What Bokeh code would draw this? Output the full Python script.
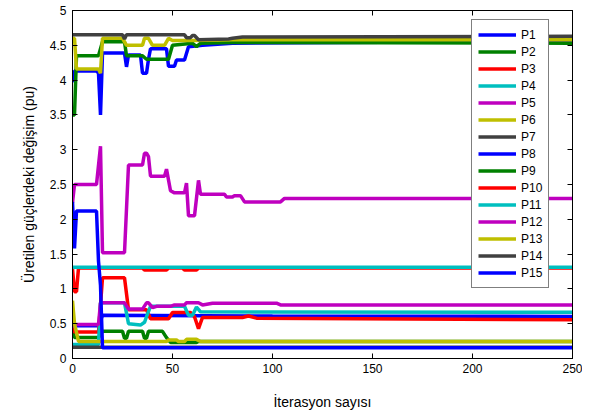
from bokeh.plotting import figure
from bokeh.models import Legend, LegendItem, LinearAxis, FixedTicker
from bokeh.embed import file_html
from bokeh.resources import INLINE

# ---------------- data ----------------
x_ticks = [0, 50, 100, 150, 200, 250]
y_ticks = [0, 0.5, 1, 1.5, 2, 2.5, 3, 3.5, 4, 4.5, 5]
y_tick_labels = ["0", "0.5", "1", "1.5", "2", "2.5", "3", "3.5", "4", "4.5", "5"]

names = ["P1", "P2", "P3", "P4", "P5", "P6", "P7", "P8", "P9", "P10",
         "P11", "P12", "P13", "P14", "P15"]
colors = ["#0000FF", "#008000", "#FF0000", "#00BFBF", "#BF00BF", "#BFBF00", "#404040",
          "#0000FF", "#008000", "#FF0000", "#00BFBF", "#BF00BF", "#BFBF00", "#404040",
          "#0000FF"]

it_P1 = [0, 1, 12, 13, 14, 15, 26, 27, 28, 34, 35, 37, 38, 39, 47, 48, 51, 52, 56, 58, 65, 80, 250]
va_P1 = [3.97, 4.13, 4.13, 4.1, 3.5, 4.39, 4.39, 4.19, 4.36, 4.36, 4.1, 4.1, 4.3, 4.45, 4.45, 4.2, 4.2, 4.29, 4.29, 4.48, 4.5, 4.53, 4.56]

it_P2 = [0, 1, 2, 13, 14, 15, 26, 27, 35, 37, 48, 50, 60, 62, 64, 80, 250]
va_P2 = [3.5, 3.5, 4.35, 4.35, 4.45, 4.55, 4.55, 4.35, 4.35, 4.3, 4.3, 4.5, 4.53, 4.48, 4.53, 4.54, 4.53]

it_P3 = [0, 1, 2, 3, 35, 36, 47, 48, 55, 56, 62, 63, 250]
va_P3 = [1.29, 0.96, 0.96, 1.3, 1.3, 1.27, 1.27, 1.3, 1.3, 1.27, 1.27, 1.3, 1.3]

it_P4 = [0, 250]
va_P4 = [1.31, 1.31]

it_P5 = [0, 1, 12, 14, 15, 26, 28, 35, 36, 37, 38, 39, 46, 47, 49, 51, 56, 57, 58, 61, 63, 64, 76, 77, 80, 81, 84, 86, 104, 106, 250]
va_P5 = [2.24, 2.5, 2.5, 3.05, 1.52, 1.52, 2.78, 2.78, 2.95, 2.95, 2.9, 2.62, 2.62, 2.72, 2.41, 2.38, 2.38, 2.52, 2.05, 2.05, 2.56, 2.36, 2.36, 2.32, 2.32, 2.34, 2.34, 2.25, 2.25, 2.3, 2.3]

it_P6 = [0, 1, 2, 13, 14, 15, 25, 27, 35, 36, 38, 40, 46, 48, 50, 60, 80, 250]
va_P6 = [4.6, 4.6, 4.16, 4.16, 4.1, 4.6, 4.6, 4.5, 4.5, 4.6, 4.6, 4.5, 4.5, 4.6, 4.57, 4.57, 4.58, 4.58]

it_P7 = [0, 25, 26, 27, 56, 57, 59, 60, 61, 63, 78, 80, 85, 250]
va_P7 = [4.65, 4.65, 4.59, 4.65, 4.65, 4.61, 4.61, 4.64, 4.64, 4.58, 4.59, 4.6, 4.62, 4.63]

it_P8 = [0, 1, 13, 15, 100, 250]
va_P8 = [0.5, 0.47, 0.47, 0.62, 0.61, 0.605]

it_P9 = [0, 1, 13, 15, 25, 26, 27, 28, 35, 36, 37, 38, 45, 47, 49, 62, 63, 250]
va_P9 = [0.4, 0.3, 0.3, 0.39, 0.39, 0.29, 0.29, 0.39, 0.39, 0.29, 0.29, 0.39, 0.39, 0.3, 0.23, 0.23, 0.245, 0.245]

it_P10 = [0, 1, 13, 15, 26, 28, 37, 39, 48, 50, 59, 61, 63, 65, 85, 88, 92, 250]
va_P10 = [0.45, 0.38, 0.38, 1.16, 1.16, 0.7, 0.7, 0.57, 0.57, 0.66, 0.66, 0.6, 0.43, 0.59, 0.59, 0.61, 0.58, 0.556]

it_P11 = [0, 13, 14, 26, 28, 34, 36, 37, 39, 56, 58, 60, 62, 64, 250]
va_P11 = [0.2, 0.2, 0.8, 0.8, 0.5, 0.48, 0.52, 0.6, 0.75, 0.75, 0.62, 0.62, 0.74, 0.67, 0.665]

it_P12 = [0, 1, 13, 14, 26, 28, 35, 37, 38, 40, 42, 49, 51, 56, 57, 63, 65, 70, 102, 104, 250]
va_P12 = [0.45, 0.49, 0.49, 0.8, 0.8, 0.71, 0.71, 0.8, 0.8, 0.73, 0.75, 0.75, 0.77, 0.77, 0.8, 0.8, 0.77, 0.795, 0.795, 0.77, 0.77]

it_P13 = [0, 1, 3, 47, 48, 52, 53, 56, 57, 62, 64, 250]
va_P13 = [0.83, 0.5, 0.245, 0.245, 0.265, 0.265, 0.245, 0.245, 0.275, 0.275, 0.245, 0.245]

it_P14 = [0, 250]
va_P14 = [0.16, 0.16]

it_P15 = [0, 1, 2, 12, 13, 14, 15, 250]
va_P15 = [2.25, 1.58, 2.12, 2.12, 1.4, 1.05, 0.155, 0.155]

iters = [it_P1, it_P2, it_P3, it_P4, it_P5, it_P6, it_P7, it_P8, it_P9, it_P10,
         it_P11, it_P12, it_P13, it_P14, it_P15]
vals = [va_P1, va_P2, va_P3, va_P4, va_P5, va_P6, va_P7, va_P8, va_P9, va_P10,
        va_P11, va_P12, va_P13, va_P14, va_P15]

# ---------------- figure ----------------
FONT = "Liberation Sans"

p = figure(frame_width=500, frame_height=348, x_range=(0, 250), y_range=(0, 5),
           output_backend="svg", toolbar_location=None,
           min_border_left=72, min_border_top=10, min_border_right=10, min_border_bottom=40)
p.xgrid.visible = False
p.ygrid.visible = False
p.outline_line_color = "black"
p.outline_line_width = 1
p.background_fill_color = "white"
p.border_fill_color = "white"

for ax in (p.xaxis[0], p.yaxis[0]):
    ax.axis_line_color = "black"
    ax.major_tick_line_color = "black"
    ax.major_tick_in = 5
    ax.major_tick_out = 0
    ax.minor_tick_line_color = None
    ax.major_label_text_font = FONT
    ax.major_label_text_font_size = "12px"
    ax.major_label_text_color = "black"
    ax.axis_label_text_font = FONT
    ax.axis_label_text_font_size = "14px"
    ax.axis_label_text_font_style = "normal"
    ax.axis_label_text_color = "black"

p.xaxis[0].ticker = FixedTicker(ticks=x_ticks)
p.yaxis[0].ticker = FixedTicker(ticks=y_ticks)
p.yaxis[0].major_label_overrides = {t: l for t, l in zip(y_ticks, y_tick_labels)}
p.xaxis[0].major_label_standoff = 5
p.yaxis[0].major_label_standoff = 6
p.xaxis[0].axis_label = "İterasyon sayısı"
p.yaxis[0].axis_label = "Üretilen güçlerdeki değişim (pu)"
p.xaxis[0].axis_label_standoff = 18
p.yaxis[0].axis_label_standoff = 10

top_axis = LinearAxis(ticker=FixedTicker(ticks=x_ticks))
right_axis = LinearAxis(ticker=FixedTicker(ticks=y_ticks))
for ax in (top_axis, right_axis):
    ax.axis_line_color = "black"
    ax.major_tick_line_color = "black"
    ax.major_tick_in = 5
    ax.major_tick_out = 0
    ax.minor_tick_line_color = None
    ax.major_label_text_font_size = "0px"
    ax.major_label_text_alpha = 0
    ax.major_label_standoff = 0
p.add_layout(top_axis, "above")
p.add_layout(right_axis, "right")

items = []
for name, col, xs, ys in zip(names, colors, iters, vals):
    r = p.line(xs, ys, line_color=col, line_width=3.5)
    items.append(LegendItem(label=name, renderers=[r]))

legend = Legend(items=items, location=(399, 70))
legend.border_line_color = "black"
legend.border_line_width = 1
legend.background_fill_color = "white"
legend.background_fill_alpha = 1
legend.label_text_font = FONT
legend.label_text_font_size = "12px"
legend.label_text_color = "black"
legend.glyph_width = 38
legend.glyph_height = 17
legend.label_height = 17
legend.label_standoff = 5
legend.spacing = 0
legend.padding = 6
legend.margin = 0
p.add_layout(legend)

open("out.html", "w").write(file_html(p, INLINE))
